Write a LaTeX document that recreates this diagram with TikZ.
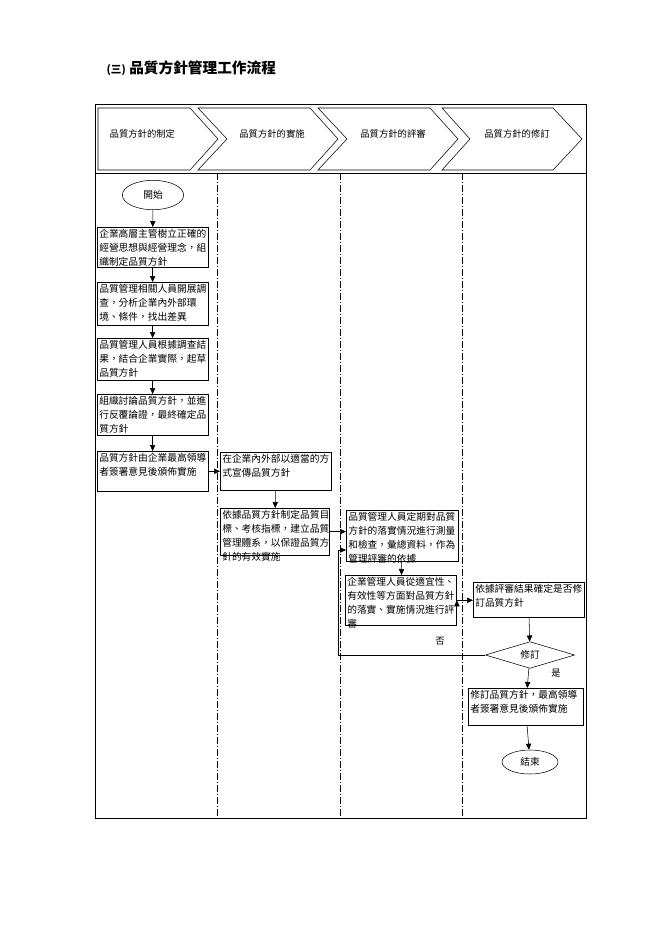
\documentclass[tikz,border=0pt]{standalone}
\usepackage{fontspec}
\setmainfont{Noto Sans CJK TC}
\usetikzlibrary{arrows.meta,shapes.geometric}

% top aligned box text
\newcommand{\boxtxt}[3]{\parbox[t][#2][t]{#1}{\fontsize{7.3}{10.4}\selectfont #3}}

\begin{document}
\begin{tikzpicture}[x=0.75pt, y=-0.75pt,
    box/.style={shape=rectangle, draw=black, fill=white, anchor=north west, inner sep=1.5pt},
    term/.style={shape=ellipse, draw=black, fill=white, minimum width=46pt, minimum height=22pt, inner sep=0pt, font=\fontsize{7.3}{9}\selectfont},
    chev/.style={draw=black, fill=white},
    lane/.style={dash pattern=on 5pt off 1.5pt on 1pt off 1.5pt},
    flow/.style={-{Triangle[length=4.5pt,width=4pt]}},
    hd/.style={font=\fontsize{7}{9}\selectfont}]
  \useasboundingbox (0,0) rectangle (662,936);

  % title
  \node[anchor=west, font=\fontsize{11}{13}\selectfont\bfseries] at (102,68) (title) {{\fontsize{8}{10}\selectfont (三)} 品質方針管理工作流程};

  % frame and lanes
  \draw (95,104) rectangle (586,818);
  \draw (95,173) -- (586,173);
  \draw[lane] (217,173) -- (217,818);
  \draw[lane] (340,173) -- (340,818);
  \draw[lane] (462,173) -- (462,818);

  % header chevrons
  \draw[chev] (98,108) -- (190,108) -- (218,139) -- (190,170) -- (98,170) -- cycle;
  \draw[chev] (198,108) -- (310,108) -- (338,139) -- (310,170) -- (198,170) -- (227,139) -- cycle;
  \draw[chev] (318,108) -- (430,108) -- (458,139) -- (430,170) -- (318,170) -- (347,139) -- cycle;
  \draw[chev] (442,108) -- (553,108) -- (582,139) -- (553,170) -- (442,170) -- (470,139) -- cycle;
  \node[hd, anchor=west] at (105,134) (h1) {品質方針的制定};
  \node[hd] at (272,134) (h2) {品質方針的實施};
  \node[hd] at (393,134) (h3) {品質方針的評審};
  \node[hd] at (517,134) (h4) {品質方針的修訂};

  % nodes
  \node[term] at (153,195) (start) {開始};
  \node[box] at (97,227) (b1) {\boxtxt{80pt}{27pt}{企業高層主管樹立正確的\\經營思想與經營理念，組\\織制定品質方針}};
  \node[box] at (97,282) (b2) {\boxtxt{80pt}{29pt}{品質管理相關人員開展調\\查，分析企業內外部環\\境、條件，找出差異}};
  \node[box] at (97,338) (b3) {\boxtxt{80pt}{28.5pt}{品質管理人員根據調查結\\果，結合企業實際，起草\\品質方針}};
  \node[box] at (97,394) (b4) {\boxtxt{80pt}{27.5pt}{組織討論品質方針，並進\\行反覆論證，最終確定品\\質方針}};
  \node[box] at (97,451) (b5) {\boxtxt{80pt}{27pt}{品質方針由企業最高領導\\者簽署意見後頒佈實施}};
  \node[box] at (220,452) (c1) {\boxtxt{80pt}{25.5pt}{在企業內外部以適當的方\\式宣傳品質方針}};
  \node[box] at (220,508) (c2) {\boxtxt{79pt}{32pt}{依據品質方針制定品質目\\標、考核指標，建立品質\\管理體系，以保證品質方\\針的有效實施}};
  \node[box] at (346,510) (d1) {\boxtxt{81pt}{35pt}{品質管理人員定期對品質\\方針的落實情況進行測量\\和檢查，彙總資料，作為\\管理評審的依據}};
  \node[box] at (345,575) (d2) {\boxtxt{80.5pt}{34.5pt}{企業管理人員從適宜性、\\有效性等方面對品質方針\\的落實、實施情況進行評\\審}};
  \node[box] at (473,582) (e1) {\boxtxt{80pt}{23pt}{依據評審結果確定是否修\\訂品質方針}};
  \node[shape=diamond, draw=black, fill=white, aspect=3.3, minimum width=67pt, minimum height=20pt, inner sep=0pt, font=\fontsize{7.3}{9}\selectfont] at (530,655) (rev) {修訂};
  \node[box] at (468,688) (e2) {\boxtxt{83pt}{25pt}{修訂品質方針，最高領導\\者簽署意見後頒佈實施}};
  \node[term, minimum width=42pt, minimum height=18pt] at (530,762) (end) {結束};
  \node[hd] at (440,641) (no) {否};
  \node[hd] at (556,673) (yes) {是};
  \coordinate (loop) at (338,655);
  \coordinate (d1in) at (346,550);

  % arcs
  \draw[flow]
  (start) edge (b1)
  (b1) edge (b2)
  (b2) edge (b3)
  (b3) edge (b4)
  (b4) edge (b5)
  (b5.east) edge (b5.east -| c1.west)
  (c1) edge (c2)
  (c2.east) edge (c2.east -| d1.west)
  (d1) edge (d2)
  (d2.east) edge (d2.east -| e1.west)
  (e1) edge (rev)
  (rev) edge (e2)
  (e2) edge (end)
  ;
  \draw[flow] (rev.west) -- (loop) |- (d1in);
\end{tikzpicture}
\end{document}
